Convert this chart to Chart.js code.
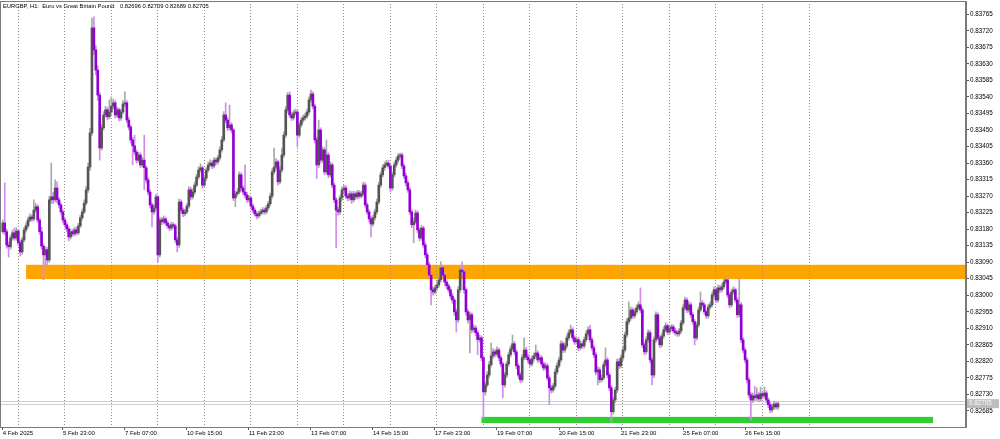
<!DOCTYPE html>
<html><head><meta charset="utf-8">
<script src="https://cdn.jsdelivr.net/npm/chart.js@4.4.1/dist/chart.umd.min.js"></script>
<style>html,body{margin:0;padding:0;background:#fff;overflow:hidden}#wrap{width:1000px;height:439px;position:relative}</style>
</head><body><div id="wrap"><canvas id="c" width="1000" height="439"></canvas></div>
<script>
const symbolTitle = 'EURGBP, H1:  Euro vs Great Britain Pound';
const firstOpen = 0.83173;
const closes = [
0.83197,0.83173,0.83137,0.83132,0.83156,0.83170,0.83156,0.83175,
0.83143,0.83118,0.83151,0.83178,0.83189,0.83205,0.83213,0.83208,0.83232,0.83241,0.83205,0.83173,0.83134,0.83110,0.83124,0.83096,0.83260,0.83268,0.83260,0.83292,0.83260,0.83246,0.83227,0.83205,
0.83192,0.83181,0.83159,0.83173,0.83167,0.83178,0.83170,0.83189,0.83211,0.83227,0.83251,0.83287,0.83349,0.83442,0.83728,0.83668,0.83613,0.83545,0.83401,0.83456,0.83491,0.83505,0.83486,0.83499,
0.83515,0.83524,0.83491,0.83505,0.83483,0.83499,0.83521,0.83524,0.83477,0.83458,0.83423,0.83407,0.83390,0.83368,0.83382,0.83355,0.83368,0.83347,0.83314,0.83281,0.83246,0.83227,0.83238,0.83268,
0.83110,0.83205,0.83200,0.83208,0.83197,0.83189,0.83183,0.83192,0.83189,0.83151,0.83137,0.83254,0.83232,0.83222,0.83227,0.83243,0.83287,0.83268,0.83281,0.83300,0.83322,0.83341,0.83347,0.83300,
0.83319,0.83341,0.83355,0.83360,0.83352,0.83368,0.83363,0.83374,0.83396,0.83423,0.83491,0.83477,0.83456,0.83464,0.83450,0.83265,0.83276,0.83281,0.83328,0.83292,0.83281,0.83273,0.83260,0.83265,
0.83243,0.83232,0.83222,0.83216,0.83222,0.83227,0.83232,0.83227,0.83238,0.83249,0.83270,0.83336,0.83349,0.83363,0.83309,0.83341,0.83382,0.83436,0.83505,0.83545,0.83491,0.83483,0.83496,0.83499,
0.83436,0.83464,0.83477,0.83483,0.83488,0.83499,0.83532,0.83548,0.83515,0.83423,0.83355,0.83450,0.83368,0.83396,0.83336,0.83382,0.83328,0.83355,0.83300,0.83260,0.83232,0.83227,0.83265,0.83287,
0.83292,0.83270,0.83265,0.83276,0.83260,0.83276,0.83268,0.83279,0.83270,0.83276,0.83300,0.83246,0.83227,0.83208,0.83194,0.83211,0.83227,0.83254,0.83300,0.83328,0.83347,0.83355,0.83360,0.83352,
0.83292,0.83328,0.83355,0.83368,0.83379,0.83382,0.83352,0.83325,0.83306,0.83287,0.83227,0.83192,0.83200,0.83224,0.83178,0.83156,0.83183,0.83137,0.83110,0.83083,0.83055,0.83015,0.83009,0.83020,
0.83028,0.83042,0.83075,0.83055,0.83036,0.83026,0.83015,0.82998,0.82987,0.82955,0.82933,0.83015,0.83069,0.83064,0.83015,0.82955,0.82933,0.82947,0.82906,0.82911,0.82898,0.82879,0.82884,0.82830,
0.82737,0.82756,0.82783,0.82811,0.82835,0.82846,0.82840,0.82851,0.82830,0.82813,0.82756,0.82783,0.82813,0.82838,0.82854,0.82868,0.82846,0.82808,0.82783,0.82770,0.82830,0.82851,0.82832,0.82824,
0.82813,0.82827,0.82835,0.82843,0.82824,0.82830,0.82813,0.82802,0.82808,0.82775,0.82748,0.82742,0.82753,0.82791,0.82808,0.82824,0.82868,0.82851,0.82862,0.82884,0.82898,0.82906,0.82884,0.82873,
0.82879,0.82857,0.82868,0.82862,0.82879,0.82895,0.82906,0.82879,0.82857,0.82838,0.82791,0.82797,0.82770,0.82775,0.82811,0.82824,0.82783,0.82748,0.82683,0.82715,0.82742,0.82819,0.82808,0.82830,
0.82851,0.82892,0.82928,0.82938,0.82960,0.82944,0.82955,0.82966,0.82974,0.82960,0.82865,0.82846,0.82879,0.82898,0.82824,0.82783,0.82879,0.82947,0.82884,0.82865,0.82889,0.82906,0.82917,0.82900,
0.82909,0.82914,0.82903,0.82898,0.82895,0.82903,0.82925,0.82966,0.82987,0.82960,0.82974,0.82947,0.82928,0.82884,0.82919,0.82960,0.82979,0.82974,0.82955,0.82944,0.82968,0.82974,0.83001,0.83015,
0.82987,0.83020,0.83015,0.83023,0.83036,0.83042,0.83001,0.82974,0.83009,0.83015,0.82987,0.82947,0.82974,0.82879,0.82851,0.82824,0.82770,0.82729,0.82715,0.82726,0.82721,0.82729,0.82718,0.82732,
0.82726,0.82734,0.82715,0.82702,0.82688,0.82696,0.82704,0.82696,0.82705
];
const highs = [
0.83205,0.83306,0.83180,0.83145,0.83163,0.83178,0.83183,0.83184,
0.83180,0.83148,0.83158,0.83185,0.83197,0.83213,0.83222,0.83219,0.83260,0.83250,0.83246,0.83210,0.83185,0.83140,0.83132,0.83130,0.83270,0.83360,0.83280,0.83314,0.83309,0.83266,0.83252,0.83232,
0.83212,0.83198,0.83187,0.83180,0.83180,0.83185,0.83186,0.83196,0.83218,0.83235,0.83260,0.83296,0.83360,0.83455,0.83755,0.83758,0.83680,0.83625,0.83552,0.83465,0.83500,0.83515,0.83512,0.83532,
0.83540,0.83534,0.83530,0.83512,0.83510,0.83506,0.83530,0.83554,0.83530,0.83485,0.83463,0.83430,0.83436,0.83396,0.83390,0.83388,0.83376,0.83436,0.83352,0.83320,0.83287,0.83252,0.83246,0.83275,
0.83272,0.83212,0.83212,0.83216,0.83213,0.83203,0.83195,0.83199,0.83198,0.83194,0.83158,0.83262,0.83260,0.83238,0.83235,0.83250,0.83296,0.83294,0.83290,0.83308,0.83330,0.83350,0.83358,0.83352,
0.83326,0.83348,0.83363,0.83369,0.83366,0.83375,0.83374,0.83381,0.83404,0.83432,0.83500,0.83524,0.83484,0.83518,0.83470,0.83455,0.83283,0.83290,0.83336,0.83334,0.83298,0.83355,0.83280,0.83272,
0.83270,0.83248,0.83238,0.83228,0.83229,0.83234,0.83239,0.83238,0.83245,0.83256,0.83278,0.83345,0.83401,0.83372,0.83368,0.83350,0.83401,0.83445,0.83514,0.83552,0.83554,0.83498,0.83504,0.83507,
0.83504,0.83472,0.83485,0.83491,0.83496,0.83507,0.83540,0.83559,0.83554,0.83520,0.83430,0.83477,0.83456,0.83404,0.83402,0.83423,0.83388,0.83364,0.83360,0.83306,0.83266,0.83240,0.83272,0.83295,
0.83300,0.83298,0.83277,0.83284,0.83282,0.83283,0.83282,0.83286,0.83285,0.83283,0.83308,0.83306,0.83252,0.83233,0.83214,0.83218,0.83235,0.83262,0.83308,0.83336,0.83355,0.83363,0.83368,0.83367,
0.83357,0.83335,0.83363,0.83376,0.83386,0.83387,0.83387,0.83358,0.83332,0.83312,0.83293,0.83233,0.83210,0.83232,0.83230,0.83184,0.83190,0.83188,0.83143,0.83116,0.83090,0.83060,0.83022,0.83028,
0.83036,0.83050,0.83091,0.83082,0.83062,0.83042,0.83032,0.83022,0.83005,0.82993,0.82962,0.83024,0.83078,0.83091,0.83070,0.83020,0.82962,0.82955,0.82952,0.82920,0.82917,0.82904,0.82892,0.82890,
0.82836,0.82764,0.82792,0.82820,0.82870,0.82855,0.82852,0.82860,0.82856,0.82836,0.82818,0.82790,0.82820,0.82846,0.82862,0.82892,0.82874,0.82852,0.82814,0.82790,0.82838,0.82884,0.82858,0.82840,
0.82830,0.82835,0.82843,0.82865,0.82849,0.82838,0.82836,0.82819,0.82816,0.82814,0.82781,0.82755,0.82760,0.82799,0.82816,0.82832,0.82876,0.82874,0.82870,0.82892,0.82906,0.82919,0.82912,0.82890,
0.82887,0.82885,0.82876,0.82874,0.82886,0.82903,0.82914,0.82919,0.82885,0.82863,0.82844,0.82805,0.82803,0.82783,0.82819,0.82857,0.82830,0.82789,0.82754,0.82722,0.82750,0.82827,0.82826,0.82838,
0.82859,0.82900,0.82936,0.82982,0.82968,0.82966,0.82963,0.82974,0.82982,0.83020,0.82966,0.82871,0.82887,0.82906,0.82904,0.82830,0.82887,0.82955,0.82952,0.82890,0.82897,0.82914,0.82925,0.82922,
0.82916,0.82921,0.82920,0.82910,0.82904,0.82910,0.82932,0.82974,0.82995,0.82993,0.82982,0.82980,0.82953,0.82934,0.82927,0.82968,0.83009,0.82986,0.82980,0.82960,0.82976,0.82982,0.83009,0.83023,
0.83020,0.83028,0.83027,0.83031,0.83044,0.83050,0.83048,0.83007,0.83017,0.83023,0.83020,0.82993,0.83050,0.82980,0.82885,0.82857,0.82830,0.82776,0.82735,0.82734,0.82752,0.82748,0.82736,0.82750,
0.82740,0.82750,0.82740,0.82721,0.82708,0.82704,0.82712,0.82710,0.82709
];
const lows = [
0.83168,0.83165,0.83128,0.83104,0.83125,0.83150,0.83150,0.83150,
0.83136,0.83107,0.83112,0.83145,0.83172,0.83183,0.83200,0.83201,0.83203,0.83226,0.83198,0.83165,0.83126,0.83042,0.83083,0.83075,0.83090,0.83250,0.83250,0.83254,0.83252,0.83238,0.83220,0.83198,
0.83185,0.83174,0.83148,0.83153,0.83160,0.83162,0.83164,0.83165,0.83184,0.83205,0.83222,0.83245,0.83280,0.83340,0.83435,0.83655,0.83600,0.83530,0.83368,0.83395,0.83450,0.83485,0.83478,0.83480,
0.83493,0.83508,0.83483,0.83485,0.83475,0.83476,0.83494,0.83514,0.83470,0.83450,0.83415,0.83355,0.83382,0.83360,0.83362,0.83348,0.83349,0.83287,0.83306,0.83273,0.83238,0.83186,0.83220,0.83232,
0.83091,0.83104,0.83192,0.83194,0.83190,0.83182,0.83176,0.83177,0.83181,0.83144,0.83118,0.83130,0.83225,0.83214,0.83216,0.83222,0.83238,0.83260,0.83262,0.83275,0.83295,0.83316,0.83335,0.83292,
0.83294,0.83312,0.83335,0.83350,0.83345,0.83347,0.83356,0.83357,0.83368,0.83390,0.83418,0.83470,0.83448,0.83450,0.83442,0.83258,0.83241,0.83270,0.83276,0.83285,0.83274,0.83266,0.83253,0.83254,
0.83236,0.83226,0.83216,0.83208,0.83210,0.83216,0.83221,0.83220,0.83222,0.83232,0.83243,0.83264,0.83330,0.83343,0.83300,0.83303,0.83335,0.83376,0.83430,0.83498,0.83484,0.83476,0.83477,0.83490,
0.83404,0.83430,0.83458,0.83471,0.83477,0.83482,0.83493,0.83526,0.83508,0.83415,0.83318,0.83348,0.83360,0.83362,0.83328,0.83330,0.83320,0.83322,0.83292,0.83252,0.83129,0.83218,0.83220,0.83258,
0.83280,0.83263,0.83257,0.83259,0.83250,0.83254,0.83261,0.83262,0.83264,0.83265,0.83270,0.83240,0.83220,0.83200,0.83159,0.83188,0.83205,0.83221,0.83248,0.83294,0.83322,0.83340,0.83350,0.83345,
0.83281,0.83286,0.83322,0.83349,0.83362,0.83373,0.83345,0.83318,0.83298,0.83280,0.83220,0.83184,0.83143,0.83194,0.83170,0.83148,0.83150,0.83130,0.83102,0.83075,0.83047,0.82974,0.83000,0.83003,
0.83014,0.83022,0.83036,0.83048,0.83028,0.83018,0.83008,0.82990,0.82978,0.82945,0.82900,0.82926,0.83008,0.83055,0.83006,0.82946,0.82924,0.82843,0.82898,0.82900,0.82890,0.82838,0.82872,0.82822,
0.82666,0.82728,0.82750,0.82776,0.82805,0.82828,0.82832,0.82834,0.82822,0.82805,0.82721,0.82750,0.82776,0.82807,0.82832,0.82848,0.82838,0.82800,0.82775,0.82762,0.82764,0.82824,0.82825,0.82816,
0.82806,0.82807,0.82820,0.82829,0.82817,0.82818,0.82806,0.82795,0.82796,0.82768,0.82702,0.82734,0.82736,0.82747,0.82785,0.82802,0.82818,0.82844,0.82845,0.82856,0.82878,0.82892,0.82877,0.82866,
0.82867,0.82850,0.82851,0.82855,0.82856,0.82873,0.82889,0.82872,0.82850,0.82830,0.82783,0.82756,0.82762,0.82764,0.82769,0.82805,0.82775,0.82740,0.82655,0.82676,0.82708,0.82735,0.82800,0.82802,
0.82823,0.82845,0.82886,0.82921,0.82932,0.82937,0.82938,0.82949,0.82960,0.82953,0.82857,0.82838,0.82840,0.82872,0.82816,0.82756,0.82776,0.82872,0.82877,0.82857,0.82859,0.82883,0.82900,0.82893,
0.82894,0.82903,0.82897,0.82891,0.82888,0.82889,0.82897,0.82919,0.82960,0.82953,0.82954,0.82940,0.82921,0.82865,0.82878,0.82913,0.82954,0.82967,0.82948,0.82937,0.82938,0.82962,0.82968,0.82995,
0.82980,0.82981,0.83008,0.83009,0.83017,0.83030,0.82994,0.82966,0.82968,0.83003,0.82980,0.82940,0.82941,0.82871,0.82843,0.82816,0.82762,0.82721,0.82661,0.82708,0.82713,0.82714,0.82710,0.82712,
0.82719,0.82720,0.82707,0.82694,0.82680,0.82682,0.82690,0.82690,0.82689
];
const xTickBars = [0,31,63,95,127,159,191,223,255,287,319,351,383];
const xTickLabels = ['4 Feb 2025','5 Feb 23:00','7 Feb 07:00','10 Feb 15:00','11 Feb 23:00','13 Feb 07:00','14 Feb 15:00','17 Feb 23:00','19 Feb 07:00','20 Feb 15:00','21 Feb 23:00','25 Feb 07:00','26 Feb 15:00'];
const daySeparatorBars = [8,32,56,80,104,128,152,176,200,224,248,272,296,320,344,368,392,416];
const yTickValues = [0.82685,0.82730,0.82775,0.82820,0.82865,0.82910,0.82955,0.83000,0.83045,0.83090,0.83135,0.83180,0.83225,0.83270,0.83315,0.83360,0.83405,0.83450,0.83495,0.83540,0.83585,0.83630,0.83675,0.83720,0.83765];
const zoneTop = [0.83083, 0.82669];
const zoneBottom = [0.83044, 0.82652];
const zoneStartBar = [12, 247];
const zoneEndBar = [497, 480];
const zoneColors = ['#FFA500', '#32CD32'];
const bidPrice = 0.82705;
const askPrice = 0.82712;

const X_MIN = -1.445, X_MAX = 497.0, Y_MIN = 0.826414, Y_MAX = 0.838012;
const BODY_UP = '#555555', BODY_DN = '#9400D3', WICK_UP = '#a9a9a9', WICK_DN = '#cf8cf0';
const FONT = '"Liberation Sans", Arial, sans-serif';

const opens = closes.map((c, i) => i === 0 ? firstOpen : closes[i - 1]);
const isUp = i => closes[i] >= opens[i];
const wickData = closes.map((c, i) => ({x: i, y: [lows[i], highs[i]]}));
const bodyData = closes.map((c, i) => ({x: i, y: [opens[i], c]}));

const noPad = s => { s.paddingTop = 0; s.paddingBottom = 0; s.paddingLeft = 0; s.paddingRight = 0; };

const overlays = {
  id: 'overlays',
  beforeDraw(chart) {
    const {ctx, chartArea: a, scales: {x, y}} = chart;
    ctx.save();
    ctx.beginPath(); ctx.rect(a.left, a.top, a.right - a.left, a.bottom - a.top); ctx.clip();
    zoneTop.forEach((t, k) => {
      const x1 = x.getPixelForValue(zoneStartBar[k]), x2 = x.getPixelForValue(zoneEndBar[k]);
      const y1 = y.getPixelForValue(t), y2 = y.getPixelForValue(zoneBottom[k]);
      ctx.fillStyle = zoneColors[k];
      ctx.fillRect(x1, y1, x2 - x1, y2 - y1);
    });
    [askPrice, bidPrice].forEach(p => {
      const yy = Math.round(y.getPixelForValue(p)) + 0.5;
      ctx.strokeStyle = '#cfcfcf'; ctx.lineWidth = 1;
      ctx.beginPath(); ctx.moveTo(a.left, yy); ctx.lineTo(a.right, yy); ctx.stroke();
    });
    ctx.restore();
  },
  afterDraw(chart) {
    const {ctx, chartArea: a, scales: {y}} = chart;
    ctx.save();
    ctx.strokeStyle = '#7a7a7a'; ctx.lineWidth = 1;
    ctx.strokeRect(a.left + 0.5, a.top + 0.5, a.right - a.left - 1, a.bottom - a.top);
    ctx.fillStyle = '#000';
    ctx.font = '5.8px ' + FONT;
    ctx.textBaseline = 'middle';
    ctx.fillText(symbolTitle, 3, 6);
    const n = closes.length - 1;
    const vals = [opens[n], highs[n], lows[n], closes[n]].map(v => v.toFixed(5)).join(' ');
    ctx.fillText(vals, 120, 6);
    const by = y.getPixelForValue(bidPrice);
    ctx.fillStyle = '#bdbdbd';
    ctx.fillRect(a.right + 1, by - 4.5, 32, 9);
    ctx.fillStyle = '#ffffff';
    ctx.font = '6.3px ' + FONT;
    ctx.fillText(bidPrice.toFixed(5), a.right + 3, by);
    ctx.restore();
  }
};

new Chart(document.getElementById('c'), {
  data: {
    datasets: [
      {type: 'bar', data: wickData, barThickness: 1, grouped: false, order: 2, borderWidth: 0,
       backgroundColor: ctx => isUp(ctx.dataIndex) ? WICK_UP : WICK_DN},
      {type: 'bar', data: bodyData, barThickness: 2, grouped: false, order: 1, borderWidth: 0, minBarLength: 1,
       backgroundColor: ctx => isUp(ctx.dataIndex) ? BODY_UP : BODY_DN}
    ]
  },
  options: {
    responsive: false, animation: false, devicePixelRatio: 1,
    layout: {padding: {left: 0, right: 0, top: 1, bottom: 0}},
    plugins: {legend: {display: false}, tooltip: {enabled: false}, title: {display: false}},
    scales: {
      x: {
        type: 'linear', position: 'bottom', min: X_MIN, max: X_MAX, offset: false, weight: 1,
        afterBuildTicks: s => { s.ticks = xTickBars.map(v => ({value: v})); },
        afterFit: s => { s.height = 12; noPad(s); },
        ticks: {autoSkip: false, maxRotation: 0, minRotation: 0, align: 'start', padding: 0,
                color: '#000', font: {family: FONT, size: 6},
                callback: (v, i) => xTickLabels[i]},
        grid: {drawOnChartArea: false, drawTicks: true, tickLength: 3, color: '#555', offset: false},
        border: {display: true, color: '#7a7a7a'}
      },
      xg: {
        type: 'linear', position: 'bottom', min: X_MIN, max: X_MAX, offset: false, weight: 2,
        afterBuildTicks: s => { s.ticks = daySeparatorBars.map(v => ({value: v})); },
        afterFit: s => { s.height = 0; noPad(s); },
        ticks: {display: false},
        grid: {drawOnChartArea: true, drawTicks: false, color: '#8c8c8c', lineWidth: 1, offset: false},
        border: {display: false, dash: [1, 2]}
      },
      y: {
        type: 'linear', position: 'right', min: Y_MIN, max: Y_MAX,
        afterBuildTicks: s => { s.ticks = yTickValues.map(v => ({value: v})); },
        afterFit: s => { s.width = 34; noPad(s); },
        ticks: {padding: 1, color: '#000', font: {family: FONT, size: 6.3},
                callback: v => Number(v).toFixed(5)},
        grid: {drawOnChartArea: false, drawTicks: true, tickLength: 3, color: '#555'},
        border: {display: true, color: '#7a7a7a'}
      }
    }
  },
  plugins: [overlays]
});
</script></body></html>
